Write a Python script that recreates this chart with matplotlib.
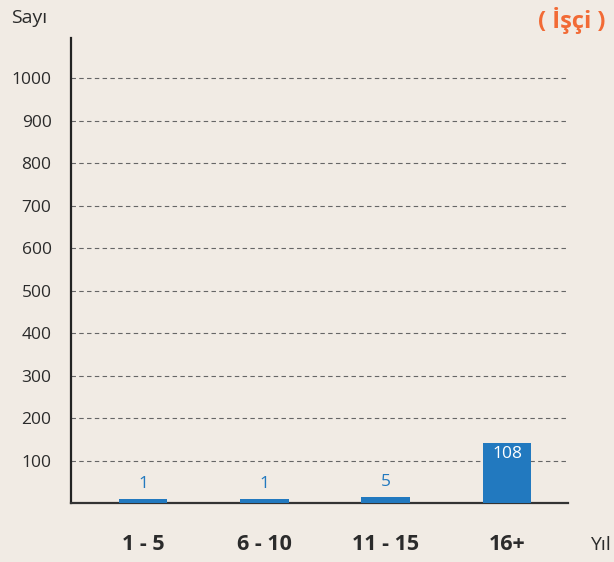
import matplotlib
matplotlib.use("Agg")
import matplotlib.pyplot as plt

categories = ["1 - 5", "6 - 10", "11 - 15", "16+"]
values = [1, 1, 5, 108]
# heights as drawn in the reference (the infographic draws bars not to scale)
drawn_heights = [10, 10, 14, 141]
yticks = [100, 200, 300, 400, 500, 600, 700, 800, 900, 1000]

bg = "#f1ebe4"
bar_color = "#2279bf"
text_color = "#2b2b2b"
orange = "#f26a35"

plt.rcParams["font.family"] = ["Open Sans", "DejaVu Sans"]

fig = plt.figure(figsize=(6.14, 5.62), dpi=100, facecolor=bg)
ax = fig.add_axes([71/614, 1-503/562, (568-71)/614, (503-38)/562])
ax.set_facecolor(bg)

x = list(range(len(categories)))
ax.bar(x, drawn_heights, width=0.4, color=bar_color, zorder=3)

for xi, h, v in zip(x, drawn_heights, values):
    if v >= 100:
        ax.text(xi, h - 7, str(v), ha="center", va="top", color="white", fontsize=12.5, zorder=4)
    else:
        ax.text(xi, h + 16, str(v), ha="center", va="bottom", color=bar_color, fontsize=12.5, zorder=4)

ax.set_xlim(-0.594, 3.503)
ax.set_ylim(0, 1095)
ax.set_yticks(yticks)
ax.set_yticklabels([str(t) for t in yticks], fontsize=12.5, color=text_color)
ax.set_xticks(x)
ax.set_xticklabels(categories, fontsize=15.5, fontweight="bold", color=text_color)
ax.tick_params(axis="y", length=0, pad=14)
ax.tick_params(axis="x", length=0, pad=22)
ax.yaxis.grid(True, linestyle=(0, (4, 3)), color="#666666", linewidth=0.8, zorder=0)
ax.xaxis.grid(False)

for s in ["top", "right"]:
    ax.spines[s].set_visible(False)
ax.spines["left"].set_color("#222222")
ax.spines["left"].set_linewidth(1.6)
ax.spines["bottom"].set_color("#333333")
ax.spines["bottom"].set_linewidth(1.6)

fig.text(29/614, 1-18/562, "Sayı", ha="center", va="center", fontsize=14, color=text_color)
fig.text(572/614, 1-20/562, "( İşçi )", ha="center", va="center", fontsize=17,
         fontweight="bold", color=orange)
fig.text(600/614, 1-545/562, "Yıl", ha="center", va="center", fontsize=14, color=text_color)

fig.savefig("out.png", dpi=100, facecolor=bg)
